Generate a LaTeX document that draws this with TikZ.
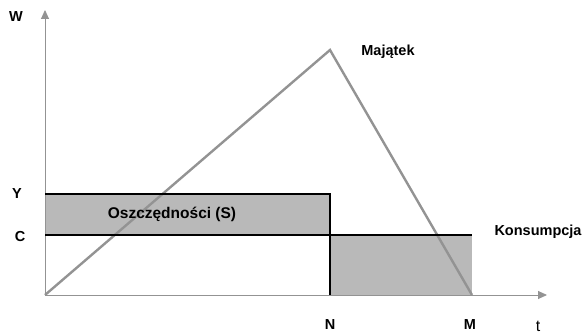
\documentclass[tikz,border=0pt]{standalone}
\usepackage{fontspec}
\setmainfont{Liberation Sans}
\usetikzlibrary{arrows.meta}

\tikzset{
  axis/.style={draw=gray!85,line width=0.9pt,-{Triangle[length=9pt,width=8pt]}},
  wealth/.style={draw=gray!85,line width=2.4pt},
  level/.style={draw=black,line width=2.8pt},
  band/.style={fill=gray!55},
  lbl/.style={font=\fontsize{14.5}{16}\selectfont\bfseries,inner sep=0pt}
}

\begin{document}
\begin{tikzpicture}[x=1pt,y=1pt]
\useasboundingbox (0,0) rectangle (585,334);
% punkty charakterystyczne
\coordinate (O) at (45,39);
\coordinate (top) at (45,324);
\coordinate (right) at (547,39);
\coordinate (peak) at (330,284);
\coordinate (N) at (330,39);
\coordinate (M) at (472,39);
\coordinate (Y0) at (45,140);
\coordinate (Y1) at (330,140);
\coordinate (C0) at (45,99);
\coordinate (C1) at (472,99);
\coordinate (NC) at (330,99);
% pola
\fill[band] (Y0) rectangle (NC);
\fill[band] (N) rectangle (C1);
% osie
\draw[axis] (O) -- (top);
\draw[axis] (O) -- (right);
% majatek
\draw[wealth,line join=miter] (O) -- (peak) -- (M);
% dochod i konsumpcja
\draw[level] (Y0) -- (Y1) -- (N);
\draw[level] (C0) -- (C1);
% opisy
\draw(16,317) node[lbl] (w) {W};
\draw(17,140) node[lbl] (y) {Y};
\draw(20,97) node[lbl] (c) {C};
\draw(330,9) node[lbl] (n) {N};
\draw(470,9) node[lbl] (m) {M};
\draw(538,8) node[lbl,font=\fontsize{16}{18}\selectfont] (t) {t};
\draw(388,282) node[lbl] (maj) {Majątek};
\draw(538,102) node[lbl] (kons) {Konsumpcja};
\draw(172,120) node[lbl,font=\fontsize{15.5}{18}\selectfont\bfseries] (osz) {Oszczędności (S)};
\end{tikzpicture}
\end{document}
